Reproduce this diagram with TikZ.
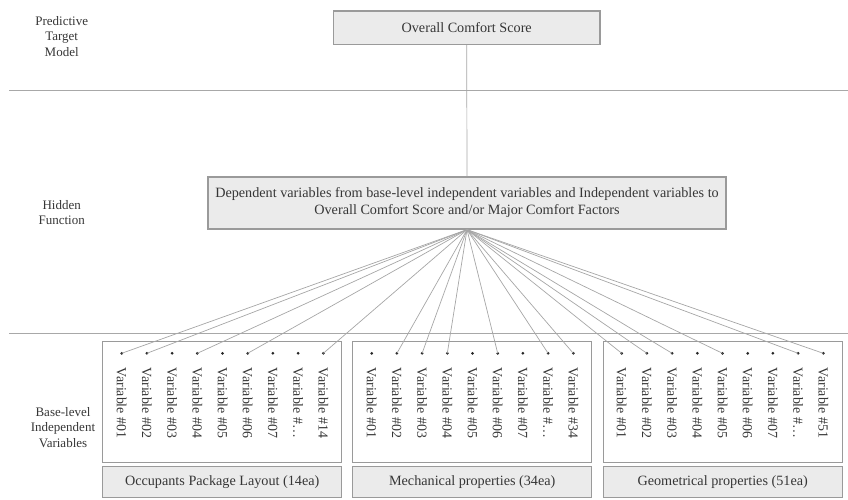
\documentclass[tikz,border=0pt]{standalone}
\usepackage{fontspec}
\setmainfont{Liberation Serif}
\usetikzlibrary{calc}
\definecolor{textgray}{HTML}{363636}
\definecolor{boxline}{HTML}{9A9A9A}
\definecolor{boxfill}{HTML}{EBEBEB}
\definecolor{sepgray}{HTML}{A8A8A8}
\definecolor{linegray}{HTML}{A6A6A6}
\begin{document}
\begin{tikzpicture}[x=1pt,y=-1pt,
  txt/.style={text=textgray, font=\fontsize{14.2}{17}\selectfont},
  graybox/.style={draw=boxline, fill=boxfill, line width=1.3pt, txt, inner sep=0pt},
  varbox/.style={draw=boxline, fill=white, line width=1.3pt},
  sepline/.style={draw=sepgray, line width=0.9pt},
  conn/.style={draw=linegray, line width=0.7pt},
  dot/.style={circle, fill=black!85, inner sep=0pt, minimum size=3pt},
  vartext/.style={text=textgray, font=\fontsize{13.9}{16}\selectfont, rotate=-90, anchor=west, inner sep=0pt},
  sidelabel/.style={text=textgray, font=\fontsize{13}{15.5}\selectfont, align=center, inner sep=0pt}]

\useasboundingbox (0,0) rectangle (848,500);

% separators
\coordinate (s1a) at (9,90);
\coordinate (s1b) at (848,90);
\coordinate (s2a) at (9,333);
\coordinate (s2b) at (848,333);
\draw[sepline] (s1a) -- (s1b);
\draw[sepline] (s2a) -- (s2b);

% side labels
\node[sidelabel] (lab1) at (61.7,36.5) {Predictive\\Target\\Model};
\node[sidelabel] (lab2) at (61.7,212.5) {Hidden\\Function};
\node[sidelabel] (lab3) at (63,427.5) {Base-level\\Independent\\Variables};

% top boxes
\node[graybox, minimum width=266.7pt, minimum height=33.3pt] (ocs) at (466.7,27.7) {Overall Comfort Score};
\node[graybox, minimum width=518pt, minimum height=52pt, align=center] (hid) at (467,203)
  {Dependent variables from base-level independent variables and Independent variables to\\Overall Comfort Score and/or Major Comfort Factors};
\draw[conn] (ocs.south) -- (hid.north);

% variable boxes and category boxes
\foreach \b/\cx/\cat in {1/222.2/Occupants Package Layout (14ea),2/472.2/Mechanical properties (34ea),3/722.7/Geometrical properties (51ea)}{
  \node[varbox, minimum width=239pt, minimum height=121pt] (vb\b) at (\cx,402.2) {};
  \node[graybox, minimum width=239pt, minimum height=31pt] (cb\b) at (\cx,482) {\cat};
}

% dots and variable labels
\foreach \b/\last in {1/14,2/34,3/51}{
  \foreach \k/\lab in {1/01,2/02,3/03,4/04,5/05,6/06,7/07,8/{\ldots},9/\last}{
    \pgfmathsetmacro\xx{102.7+250*(\b-1)+19+25.2*(\k-1)}
    \node[dot] (d\b-\k) at (\xx,353.3) {};
    \node[vartext] (v\b-\k) at (\xx,367.5) {Variable \#\lab};
  }
}

% connectors
\foreach \t in {1-1,1-2,1-4,1-6,1-9,2-2,2-3,2-4,2-6,2-8,2-9,3-1,3-2,3-3,3-5,3-8,3-9}{
  \draw[conn] (hid.south) -- (d\t.center);
}
\end{tikzpicture}
\end{document}
